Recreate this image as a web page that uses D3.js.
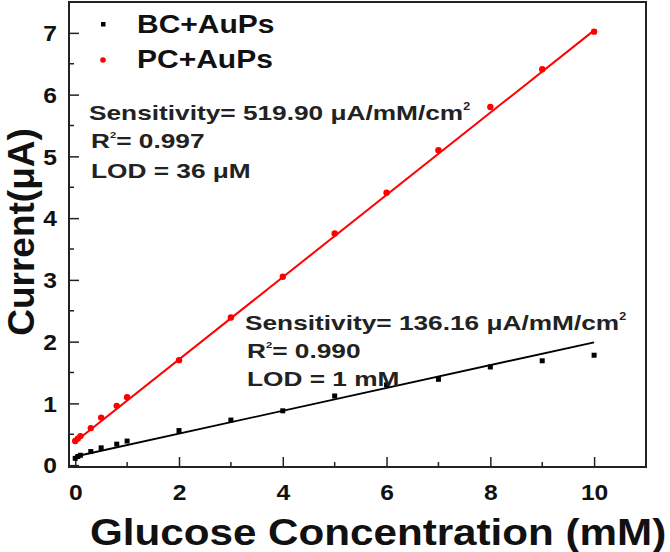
<!DOCTYPE html>
<html><head><meta charset="utf-8">
<script src="https://cdn.jsdelivr.net/npm/d3@7"></script>
<style>body{margin:0;background:#fff}svg{display:block}</style>
</head><body>
<script>
const concentration = [0, 0.05, 0.1, 0.3, 0.5, 0.8, 1, 2, 3, 4, 5, 6, 7, 8, 9, 10];
const bcCurrent = [0.11, 0.14, 0.16, 0.22, 0.28, 0.34, 0.39, 0.56, 0.73, 0.88, 1.12, 1.30, 1.39, 1.59, 1.69, 1.78];
const pcCurrent = [0.39, 0.43, 0.47, 0.60, 0.77, 0.96, 1.10, 1.70, 2.39, 3.05, 3.75, 4.41, 5.10, 5.80, 6.41, 7.02];
const bcFit = [[0, 0.14], [10, 1.99]];
const pcFit = [[0, 0.38], [10, 7.04]];
const seriesNames = ["BC+AuPs", "PC+AuPs"];
const xTicks = [0, 2, 4, 6, 8, 10];
const xMinorTicks = [1, 3, 5, 7, 9];
const yTicks = [0, 1, 2, 3, 4, 5, 6, 7];
const yMinorTicks = [0.5, 1.5, 2.5, 3.5, 4.5, 5.5, 6.5];
const annBC = ["Sensitivity= 136.16 μA/mM/cm", "R", "= 0.990", "LOD = 1 mM"];
const annPC = ["Sensitivity= 519.90 μA/mM/cm", "R", "= 0.997", "LOD = 36 μM"];

const W = 670, H = 552;
const L = 69, R = 646, T = 2, B = 467;
const svg = d3.select("body").append("svg").attr("width", W).attr("height", H);
const FF = "'Liberation Sans', Arial, sans-serif";

const x = d3.scaleLinear().domain([-0.12, 11.0]).range([L, R]);
const y = d3.scaleLinear().domain([-0.03, 7.5]).range([B, T]);

// minor ticks
const minor = svg.append("g").attr("stroke", "#222").attr("stroke-width", 1.5);
minor.selectAll("line.xm").data(xMinorTicks).enter().append("line")
  .attr("x1", d => x(d)).attr("x2", d => x(d)).attr("y1", B).attr("y2", B - 5);
minor.selectAll("line.ym").data(yMinorTicks).enter().append("line")
  .attr("x1", L).attr("x2", L + 5).attr("y1", d => y(d)).attr("y2", d => y(d));

// axes
const xAxis = svg.append("g").attr("transform", `translate(0,${B})`)
  .call(d3.axisBottom(x).tickValues(xTicks).tickSizeInner(-10).tickSizeOuter(0).tickFormat(d3.format("d")));
const yAxis = svg.append("g").attr("transform", `translate(${L},0)`)
  .call(d3.axisLeft(y).tickValues(yTicks).tickSizeInner(-10).tickSizeOuter(0).tickFormat(d3.format("d")));
[xAxis, yAxis].forEach(g => {
  g.select(".domain").remove();
  g.selectAll(".tick line").attr("stroke", "#222").attr("stroke-width", 1.5);
  g.selectAll(".tick text").attr("font-family", FF).attr("font-weight", "bold")
    .attr("font-size", 22).attr("fill", "#111");
});
xAxis.selectAll(".tick text").attr("y", 0).attr("dy", 0)
  .attr("transform", "translate(0,33) scale(1.12,1)");
yAxis.selectAll(".tick text").attr("x", 0).attr("dy", "0.35em").attr("text-anchor", "end")
  .attr("transform", "translate(-12,0) scale(1.12,1)");

// frame
svg.append("rect").attr("x", L).attr("y", T).attr("width", R - L).attr("height", B - T)
  .attr("fill", "none").attr("stroke", "#222").attr("stroke-width", 2);

// fit lines
const line = d3.line().x(d => x(d[0])).y(d => y(d[1]));
svg.append("path").datum(bcFit).attr("d", line).attr("stroke", "#000").attr("stroke-width", 1.8).attr("fill", "none");
svg.append("path").datum(pcFit).attr("d", line).attr("stroke", "#ff0000").attr("stroke-width", 2).attr("fill", "none");

// points
const bcData = concentration.map((c, i) => [c, bcCurrent[i]]);
const pcData = concentration.map((c, i) => [c, pcCurrent[i]]);
svg.append("g").selectAll("rect").data(bcData).enter().append("rect")
  .attr("x", d => x(d[0]) - 2.5).attr("y", d => y(d[1]) - 2.5).attr("width", 5).attr("height", 5).attr("fill", "#000");
svg.append("g").selectAll("circle").data(pcData).enter().append("circle")
  .attr("cx", d => x(d[0])).attr("cy", d => y(d[1])).attr("r", 3.2).attr("fill", "#ff0000");

// legend
svg.append("rect").attr("x", 101).attr("y", 22).attr("width", 4.5).attr("height", 4.5).attr("fill", "#000");
svg.append("circle").attr("cx", 103).attr("cy", 60).attr("r", 2.8).attr("fill", "#ff0000");
[33, 68].forEach((yy, i) => {
  svg.append("text").attr("transform", `translate(137,${yy}) scale(1.2,1)`)
    .attr("font-family", FF).attr("font-weight", "bold").attr("font-size", 25).attr("fill", "#111")
    .text(seriesNames[i]);
});

// annotations
function annotate(a, x0, ys) {
  const g = svg.append("g").attr("font-family", FF).attr("font-weight", "bold").attr("font-size", 21).attr("fill", "#222");
  const t1 = g.append("text").attr("transform", `translate(${x0},${ys[0]}) scale(1.25,1)`);
  t1.append("tspan").text(a[0]);
  t1.append("tspan").attr("font-size", 10).attr("dy", -10).text("2");
  const t2 = g.append("text").attr("transform", `translate(${x0 + 2},${ys[1]}) scale(1.25,1)`);
  t2.append("tspan").text(a[1]);
  t2.append("tspan").attr("font-size", 9).attr("dy", -10).text("2");
  t2.append("tspan").attr("dy", 10).text(a[2]);
  g.append("text").attr("transform", `translate(${x0 + 2},${ys[2]}) scale(1.25,1)`).text(a[3]);
}
annotate(annPC, 89, [120, 148, 178]);
annotate(annBC, 245, [330, 358, 386]);

// axis titles
svg.append("text").attr("transform", "translate(90,545) scale(1.14,1)")
  .attr("font-family", FF).attr("font-weight", "bold").attr("font-size", 37).attr("fill", "#111")
  .text("Glucose Concentration (mM)");
svg.append("text").attr("transform", "translate(34,232) rotate(-90) scale(1.0,1)")
  .attr("text-anchor", "middle")
  .attr("font-family", FF).attr("font-weight", "bold").attr("font-size", 37).attr("fill", "#111")
  .text("Current(μA)");
</script>
</body></html>
